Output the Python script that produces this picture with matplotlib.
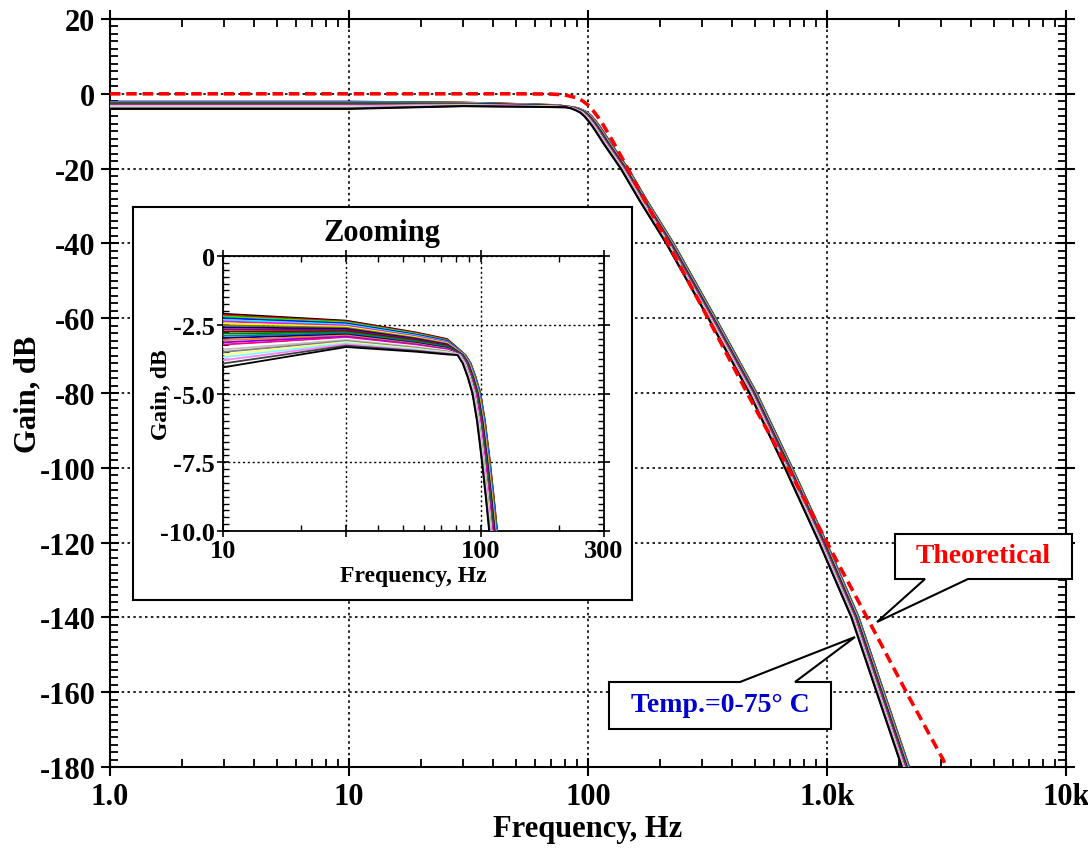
import numpy as np
import matplotlib
matplotlib.use('Agg')
import matplotlib.pyplot as plt
from matplotlib.ticker import FixedLocator, FixedFormatter, MultipleLocator, LogLocator, NullFormatter
from matplotlib.patches import Polygon

plt.rcParams['font.family'] = 'Liberation Serif'
plt.rcParams['font.weight'] = 'bold'
plt.rcParams['axes.labelweight'] = 'bold'
plt.rcParams['axes.unicode_minus'] = False

# measured curves, one entry per temperature (top of the band at 10 Hz first)
# passband gain (dB) read at 1-10 Hz (flat), 30, 56 and 74 Hz
pass_freq = [1, 10, 30, 56, 74]
gain_low = [-2.10, -2.15, -2.20, -2.26, -2.32, -2.38, -2.45, -2.52, -2.59, -2.66, -2.74, -2.82, -2.90,
            -2.98, -3.06, -3.14, -3.22, -3.31, -3.40, -3.49, -3.58, -3.68, -3.79, -3.91, -4.05]
gain_30 = [-2.35, -2.38, -2.41, -2.45, -2.49, -2.53, -2.57, -2.61, -2.65, -2.69, -2.73, -2.77, -2.81,
           -2.85, -2.89, -2.93, -2.97, -3.01, -3.05, -3.09, -3.13, -3.17, -3.21, -3.26, -3.31]
gain_56 = [-2.78, -2.80, -2.83, -2.86, -2.89, -2.92, -2.95, -2.98, -3.01, -3.04, -3.07, -3.10, -3.13,
           -3.16, -3.19, -3.22, -3.25, -3.28, -3.31, -3.34, -3.37, -3.40, -3.43, -3.45, -3.48]
gain_74 = [-3.02, -3.04, -3.07, -3.09, -3.12, -3.14, -3.17, -3.19, -3.22, -3.24, -3.27, -3.29, -3.32,
           -3.34, -3.37, -3.39, -3.42, -3.44, -3.46, -3.48, -3.50, -3.52, -3.54, -3.56, -3.58]
# frequency where each curve crosses -10 dB (zoomed view)
cut_hz = [115.6, 115.3, 115.0, 114.7, 114.3, 114.0, 113.7, 113.3, 113.0, 112.6, 112.3, 112.0, 111.6,
          111.3, 110.9, 110.6, 110.3, 109.9, 109.6, 109.3, 108.9, 108.6, 108.3, 107.9, 107.6]

# roll-off read along the middle of the band (-10 dB at 111.5 Hz)
roll_ref_cut = 111.5
roll_freq = [84, 88, 92, 96, 100, 104, 108, 111.5, 120, 142, 170, 220, 330, 490, 690, 960, 1310, 1670,
             2130, 2300]
roll_gain = [-3.6, -3.9, -4.4, -5.0, -6.0, -7.3, -8.7, -10.0, -13.2, -20, -28.5, -40, -60, -80, -100, -120,
             -140, -160, -180, -186]

# theoretical response (red dashed)
theo_freq = [1, 50, 70, 80, 90, 95, 100, 105, 110, 115, 120, 127, 140, 160, 200, 300, 500, 700, 1000,
             1470, 2190, 3060, 3300]
theo_gain = [0, 0, -0.06, -0.3, -1.1, -1.9, -3.0, -4.5, -6.2, -8.0, -10.0, -12.7, -17.6, -24.5, -36, -57,
             -84, -101, -120, -140, -161, -178, -183]

# Origin-style colour increment
origin_colors = ['#000000', '#ff0000', '#00ff00', '#0000ff', '#00ffff', '#ff00ff', '#ffff00', '#808000',
                 '#000080', '#800080', '#800000', '#008000', '#008080', '#0000a0', '#ff8000', '#8000ff',
                 '#ff0080', '#ffffff', '#c0c0c0', '#808080', '#ffff80', '#80ffff', '#ff80ff', '#404040']

W, H = 1088, 853


def fig_rect(x0, y0, x1, y1):
    # pixel box (top-left origin) -> figure fraction rect
    return [x0 / W, 1 - y1 / H, (x1 - x0) / W, (y1 - y0) / H]


def fig_pt(x, y):
    return (x / W, 1 - y / H)


def curve(i):
    f = pass_freq + list(np.array(roll_freq) * cut_hz[i] / roll_ref_cut)
    g = [gain_low[i], gain_low[i], gain_30[i], gain_56[i], gain_74[i]] + roll_gain
    return f, g


def draw_curves(ax, lw):
    for i in range(len(cut_hz)):
        f, g = curve(i)
        ax.plot(f, g, color=origin_colors[i % len(origin_colors)], lw=lw, zorder=3)


fig = plt.figure(figsize=(W / 100, H / 100), dpi=100)

# main plot
ax = fig.add_axes(fig_rect(110, 20, 1066, 768))
draw_curves(ax, 1.4)
ax.plot(theo_freq, theo_gain, color='#ff0000', lw=2.6, linestyle=(0, (2.9, 1.6)), zorder=4)

ax.set_xscale('log')
ax.set_xlim(1, 10000)
ax.set_ylim(-180, 20)
ax.xaxis.set_major_locator(FixedLocator([1, 10, 100, 1000, 10000]))
ax.xaxis.set_major_formatter(FixedFormatter(['1.0', '10', '100', '1.0k', '10k']))
ax.xaxis.set_minor_locator(LogLocator(base=10, subs=range(2, 10)))
ax.xaxis.set_minor_formatter(NullFormatter())
ax.yaxis.set_major_locator(MultipleLocator(20))
ax.yaxis.set_minor_locator(MultipleLocator(2))
ax.tick_params(which='major', direction='inout', length=13, width=1.5, labelsize=22,
               top=True, right=True, pad=4)
ax.tick_params(which='minor', direction='in', length=6, width=1.3, top=True, right=True)
ax.grid(True, which='major', color='black', linestyle=(0, (1.5, 2)), linewidth=1.2)
for s in ax.spines.values():
    s.set_linewidth(1.5)
ax.set_xlabel('Frequency, Hz', fontsize=22, fontweight='bold')
ax.set_ylabel('Gain, dB', fontsize=22, fontweight='bold')
ax.xaxis.set_label_coords(0.5, -0.063)
ax.yaxis.set_label_coords(-0.071, 0.5)

# zoom box
box = fig.add_axes(fig_rect(133, 208, 632, 601))
box.set_xticks([])
box.set_yticks([])
for s in box.spines.values():
    s.set_linewidth(1.5)
fig.text(382 / W, 1 - 233 / H, 'Zooming', fontsize=22, fontweight='bold', ha='center', va='center')

ins = fig.add_axes(fig_rect(223, 257, 604, 532))
draw_curves(ins, 1.3)
ins.set_xscale('log')
ins.set_xlim(10, 300)
ins.set_ylim(-10, 0)
ins.xaxis.set_major_locator(FixedLocator([10, 30, 100, 300]))
ins.xaxis.set_major_formatter(FixedFormatter(['10', '', '100', '300']))
ins.xaxis.set_minor_locator(LogLocator(base=10, subs=range(2, 10)))
ins.xaxis.set_minor_formatter(NullFormatter())
ins.yaxis.set_major_locator(FixedLocator([-10, -7.5, -5, -2.5, 0]))
ins.yaxis.set_major_formatter(FixedFormatter(['-10.0', '-7.5', '-5.0', '-2.5', '0']))
ins.yaxis.set_minor_locator(MultipleLocator(0.25))
ins.tick_params(which='major', direction='inout', length=8, width=1.2, labelsize=19,
                top=True, right=True, pad=2)
ins.tick_params(which='minor', direction='in', length=4, width=1, top=True, right=True)
ins.grid(True, which='major', color='black', linestyle=(0, (1.5, 2)), linewidth=1.0)
for s in ins.spines.values():
    s.set_linewidth(1.3)
ins.set_xlabel('Frequency, Hz', fontsize=17, fontweight='bold')
ins.set_ylabel('Gain, dB', fontsize=17, fontweight='bold')
ins.xaxis.set_label_coords(0.5, -0.125)
ins.yaxis.set_label_coords(-0.134, 0.5)

# callouts
theo_box = [(895, 535), (1072, 535), (1072, 580), (968, 580), (877, 623), (925, 580), (895, 580)]
fig.patches.append(Polygon([fig_pt(x, y) for x, y in theo_box], closed=True, transform=fig.transFigure,
                           facecolor='white', edgecolor='black', lw=1.5, zorder=5))
fig.text(983 / W, 1 - 557 / H, 'Theoretical', color='#ff0000', fontsize=20, fontweight='bold',
         ha='center', va='center', zorder=6)

temp_box = [(609, 730), (831, 730), (831, 683), (795, 683), (855, 638), (740, 683), (609, 683)]
fig.patches.append(Polygon([fig_pt(x, y) for x, y in temp_box], closed=True, transform=fig.transFigure,
                           facecolor='white', edgecolor='black', lw=1.5, zorder=5))
fig.text(720 / W, 1 - 706 / H, 'Temp.=0-75° C', color='#0000cc', fontsize=20, fontweight='bold',
         ha='center', va='center', zorder=6)

fig.savefig('out.png', dpi=100)
